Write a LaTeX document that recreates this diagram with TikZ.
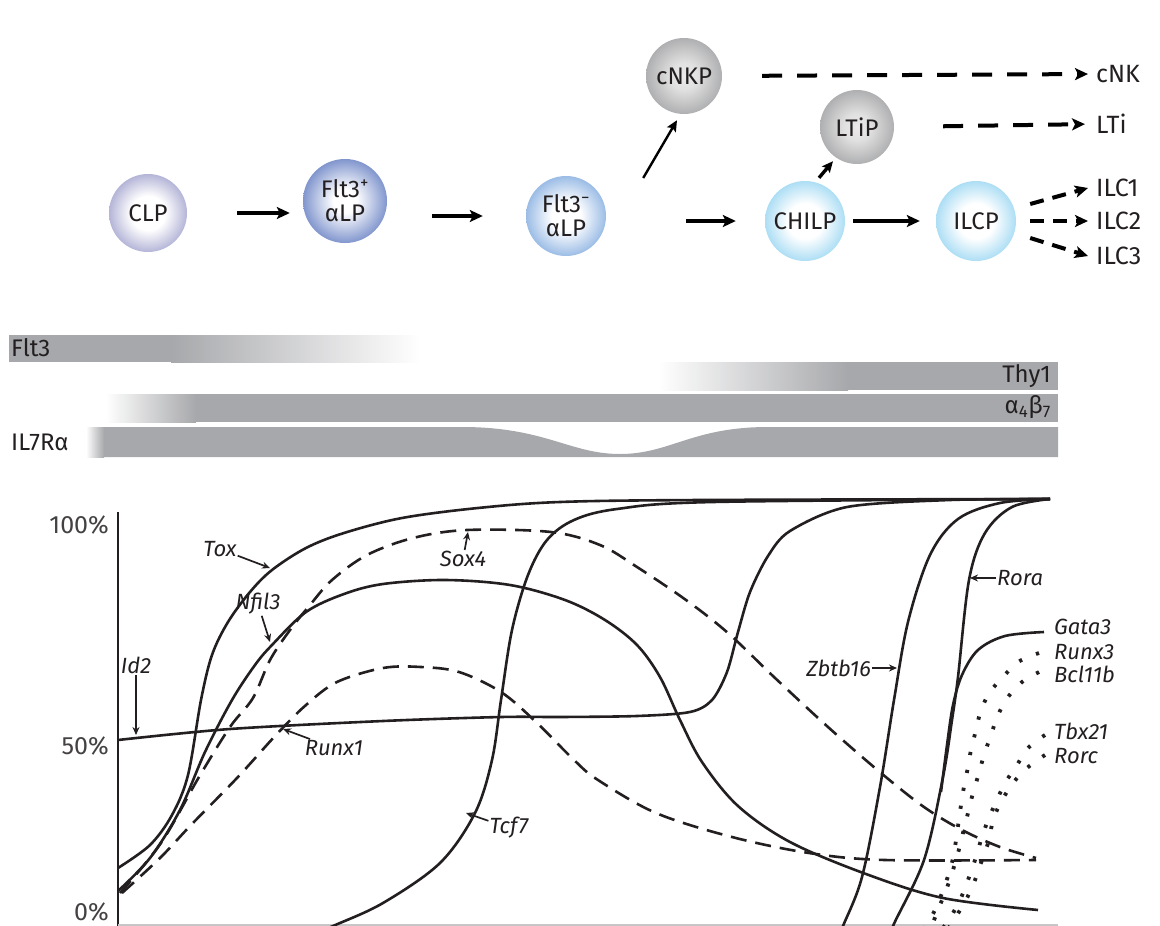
\documentclass[tikz,border=0pt]{standalone}
\usepackage{fontspec}
\setmainfont{Fira Sans}
\usepackage{xcolor}
\usetikzlibrary{arrows.meta}
\definecolor{ink}{HTML}{231F20}
\definecolor{clprim}{HTML}{8A8BC1}
\definecolor{alprim}{HTML}{7A90CB}
\definecolor{almrim}{HTML}{89B0E1}
\definecolor{nkrim}{HTML}{999A9C}
\definecolor{ilcrim}{HTML}{8AD0F0}
\definecolor{bargrey}{HTML}{A7A8AB}
\pgfdeclareradialshading{clpball}{\pgfpoint{0bp}{0bp}}{color(0bp)=(white);color(11bp)=(white);color(33bp)=(clprim);color(36bp)=(clprim!85!black)}
\pgfdeclareradialshading{alpball}{\pgfpoint{0bp}{0bp}}{color(0bp)=(white);color(7bp)=(white);color(26bp)=(alprim);color(36bp)=(alprim!90!black)}
\pgfdeclareradialshading{almball}{\pgfpoint{0bp}{0bp}}{color(0bp)=(white);color(9bp)=(white);color(28bp)=(almrim);color(36bp)=(almrim!90!black)}
\pgfdeclareradialshading{nkball}{\pgfpoint{0bp}{0bp}}{color(0bp)=(white!92!black);color(9bp)=(white!88!black);color(32bp)=(nkrim);color(36bp)=(nkrim!80!black)}
\pgfdeclareradialshading{ilcball}{\pgfpoint{0bp}{0bp}}{color(0bp)=(white);color(11bp)=(white);color(31bp)=(ilcrim);color(36bp)=(ilcrim!90!black)}

\begin{document}
\begin{tikzpicture}[x=1pt, y=-1pt,
		cell/.style={circle, shade, minimum size=80pt, inner sep=0pt, align=center,
			text=ink, font=\fontsize{24}{24}\selectfont},
		fate/.style={anchor=west, inner sep=1pt, text=ink, font=\fontsize{25}{26}\selectfont},
		mainarrow/.style={line width=4pt, -{Stealth[length=13pt,width=12pt,inset=3pt]}},
		slimarrow/.style={line width=2.4pt, -{Stealth[length=11pt,width=10pt,inset=2pt]}},
		fatedash/.style={line width=4pt, dash pattern=on 20pt off 15pt, -{Stealth[length=13pt,width=12pt,inset=3pt]}},
		shortdash/.style={fatedash, dash pattern=on 14pt off 9pt},
		barlabel/.style={inner sep=1pt, text=ink, font=\fontsize{24}{25}\selectfont},
		gene/.style={line width=2.6pt, ink},
		genedash/.style={gene, dash pattern=on 16pt off 9pt},
		genedot/.style={ink, line width=3.8pt, dash pattern=on 3.2pt off 15pt},
		genelabel/.style={inner sep=1pt, text=ink, font=\fontsize{22}{24}\selectfont\itshape},
		pointer/.style={ink, line width=1.7pt, -{Stealth[length=8pt,width=7pt]}},
		pct/.style={anchor=east, inner sep=0pt, text=ink!85, font=\fontsize{25}{26}\selectfont}]
	\useasboundingbox (0,0) rectangle (1160,926);
	%
	% cells
	\node[cell, shading=clpball, minimum size=78pt] (clp) at (148,213) {CLP};
	\node[cell, shading=alpball, minimum size=84pt] (alpp) at (345,201) {Flt3\textsuperscript{+}\\αLP};
	\node[cell, shading=almball] (alpm) at (566,216) {Flt3\textsuperscript{−}\\αLP};
	\node[cell, shading=nkball, minimum size=76pt] (cnkp) at (684,76) {cNKP};
	\node[cell, shading=nkball, minimum size=74pt] (ltip) at (857,127) {LTiP};
	\node[cell, shading=ilcball] (chilp) at (805,221) {CHILP};
	\node[cell, shading=ilcball] (ilcp) at (976,221) {ILCP};
	%
	\node[fate] (cnk) at (1095,74) {cNK};
	\node[fate] (lti) at (1095,124) {LTi};
	\node[fate] (ilc1) at (1095,188) {ILC1};
	\node[fate] (ilc2) at (1095,221) {ILC2};
	\node[fate] (ilc3) at (1095,256) {ILC3};
	%
	% lineage arrows
	\draw[mainarrow, shorten <=50pt, shorten >=13pt] (clp.east) -- (clp.east -| alpp.west);
	\draw[mainarrow, shorten <=45pt, shorten >=43pt] (alpp.east |- alpm.west) -- (alpm.west);
	\draw[mainarrow, shorten <=80pt, shorten >=29pt] (alpm.east |- chilp.west) -- (chilp.west);
	\draw[mainarrow, shorten <=8pt, shorten >=16pt] (chilp.east) -- (ilcp.west);
	\draw[slimarrow] ([shift={(37,-38)}]alpm.east) -- ([shift={(-7,6)}]cnkp.south);
	\draw[slimarrow, line width=3.4pt] ([shift={(14,-3)}]chilp.north) -- ([shift={(-24,-3)}]ltip.south);
	\draw[fatedash, shorten <=40pt, shorten >=7pt] (cnkp.east) -- (cnk.west);
	\draw[fatedash, shorten <=49pt, shorten >=10pt] (ltip.east) -- (lti.west);
	\draw[shortdash] ([shift={(14,-17)}]ilcp.east) -- ([xshift=-7pt]ilc1.west);
	\draw[shortdash] ([shift={(14,0)}]ilcp.east) -- ([xshift=-7pt]ilc2.west);
	\draw[shortdash] ([shift={(14,17)}]ilcp.east) -- ([xshift=-7pt]ilc3.west);
	%
	% surface markers
	\fill[bargrey] (9,335) rectangle (171,362);
	\shade[left color=bargrey, right color=white] (171,335) rectangle (420,362);
	\node[barlabel, anchor=west] (flt3) at (10,348) {Flt3};
	%
	\shade[left color=white, right color=bargrey] (658,362) rectangle (848,390);
	\fill[bargrey] (848,362) rectangle (1058,390);
	\node[barlabel, anchor=east] (thy1) at (1052,376) {Thy1};
	%
	\shade[left color=white, right color=bargrey] (106,394) rectangle (196,422);
	\fill[bargrey] (196,394) rectangle (1058,422);
	\node[barlabel, anchor=east] (a4b7) at (1052,407) {α\textsubscript{4}β\textsubscript{7}};
	%
	\shade[left color=white, right color=bargrey] (86,427) rectangle (104,457);
	\fill[bargrey] (104,427) -- (462,427) .. controls (545,427) and (570,454) .. (620,454)
		.. controls (670,454) and (692,427) .. (768,427) -- (1058,427) -- (1058,457) -- (104,457) -- cycle;
	\node[barlabel, anchor=west] (il7r) at (10,442) {IL7Rα};
	%
	% expression plot
	\draw[ink, line width=2.6pt] (118,512) -- (118,926);
	\draw[gray!45, line width=2pt] (118,925) -- (1058,925);
	\node[pct] (p100) at (109,525) {100\%};
	\node[pct] (p50) at (109,746) {50\%};
	\node[pct] (p0) at (109,912) {0\%};
	%
	\begin{scope}
		\clip (118,480) rectangle (1160,925);
		% Tox
		\draw[gene] plot[smooth, tension=0.55] coordinates {(118,868) (150,845) (172,815) (188,775)
			(201,700) (212,655) (228,622) (250,592) (272,570) (306,548) (344,533) (402,518) (478,508)
			(560,502) (700,500) (1050,499)};
		% Nfil3
		\draw[gene] plot[smooth, tension=0.55] coordinates {(118,891) (150,858) (180,810) (205,752)
			(232,700) (255,665) (272,645) (306,612) (344,594) (383,584) (445,580) (510,585) (565,600)
			(605,620) (637,645) (660,677) (680,720) (702,762) (738,806) (790,842) (866,874) (943,898)
			(1038,910)};
		% Sox4
		\draw[genedash] plot[smooth, tension=0.55] coordinates {(120,893) (161,843) (199,777) (230,727)
			(253,698) (270,660) (290,630) (310,605) (332,580) (367,555) (413,538) (467,530) (551,532)
			(600,545) (637,567) (686,600) (728,633) (774,677) (828,727) (881,773) (924,807) (962,830)
			(1000,847) (1036,858)};
		% Runx1
		\draw[genedash] plot[smooth, tension=0.55] coordinates {(122,893) (160,858) (191,825) (237,778)
			(276,735) (306,705) (337,682) (383,668) (421,667) (459,672) (501,692) (536,722) (574,760)
			(598,780) (656,813) (732,837) (809,853) (885,860) (1036,860)};
		% Id2
		\draw[gene] plot[smooth, tension=0.5] coordinates {(118,740) (230,729) (383,721) (501,717)
			(560,717) (637,716) (690,712) (712,700) (727,672) (738,632) (750,592) (768,556) (790,531)
			(847,507) (950,500) (1050,499)};
		% Tcf7
		\draw[gene] plot[smooth, tension=0.55] coordinates {(300,940) (333,926) (383,903) (440,863)
			(475,813) (492,760) (501,700) (512,630) (528,575) (547,540) (574,520) (617,509) (713,502)
			(1050,499)};
		% Zbtb16
		\draw[gene] plot[smooth, tension=0.55] coordinates {(835,945) (843,926) (862,877) (880,787)
			(894,700) (908,622) (930,555) (958,519) (1000,503) (1050,499)};
		% Rora
		\draw[gene] plot[smooth, tension=0.55] coordinates {(888,945) (893,926) (924,860) (943,777)
			(952,720) (958,677) (969,580) (985,533) (1012,507) (1050,499)};
		% Gata3
		\draw[gene] plot[smooth, tension=0.55] coordinates {(941,792) (947,745) (953,705) (962,675)
			(978,650) (1005,636) (1044,632)};
		% Runx3, Bcl11b
		\draw[genedot] plot[smooth, tension=0.55] coordinates {(1039,653) (1018,662) (1003,677) (990,692)
			(981,710) (976,730) (971,750) (967,772) (963,792) (960,812) (954,853) (949,873) (942,893)
			(934,912) (922,932)};
		\draw[genedot] plot[smooth, tension=0.55] coordinates {(1039,672) (1022,682) (1008,697) (998,715)
			(991,735) (984,755) (979,773) (973,793) (968,813) (963,833) (958,853) (952,873) (945,893)
			(937,912) (930,932)};
		% Tbx21, Rorc
		\draw[genedot] plot[smooth, tension=0.55] coordinates {(1045,735) (1028,748) (1017,765) (1005,783)
			(996,802) (988,820) (981,840) (975,860) (968,880) (960,900) (950,918) (940,932)};
		\draw[genedot] plot[smooth, tension=0.55] coordinates {(1045,755) (1027,768) (1013,783) (1001,802)
			(993,820) (989,840) (982,860) (975,880) (967,898) (957,915) (946,932)};
	\end{scope}
	%
	% gene labels
	\node[genelabel] (tox) at (220,549) {Tox};
	\node[genelabel] (nfil3) at (258,604) {Nfil3};
	\node[genelabel] (sox4) at (463,559) {Sox4};
	\node[genelabel] (runx1) at (334,748) {Runx1};
	\node[genelabel] (tcf7) at (509,828) {Tcf7};
	\node[genelabel] (id2) at (136,665) {Id2};
	\node[genelabel, anchor=east] (zbtb16) at (872,668) {Zbtb16};
	\node[genelabel, anchor=west] (rora) at (996,578) {Rora};
	\node[genelabel, anchor=west] (gata3) at (1053,627) {Gata3};
	\node[genelabel, anchor=west] (runx3) at (1053,652) {Runx3};
	\node[genelabel, anchor=west] (bcl11b) at (1053,674) {Bcl11b};
	\node[genelabel, anchor=west] (tbx21) at (1053,731) {Tbx21};
	\node[genelabel, anchor=west] (rorc) at (1053,756) {Rorc};
	%
	\coordinate (toxpt) at (270,568);
	\coordinate (nfil3pt) at (270,642);
	\coordinate (sox4pt) at (468,532);
	\coordinate (runx1pt) at (283,729);
	\coordinate (tcf7pt) at (466,813);
	\coordinate (id2pt) at (136,735);
	\coordinate (zbtb16pt) at (897,668);
	\coordinate (rorapt) at (970,578);
	\draw[pointer] (tox) -- (toxpt);
	\draw[pointer] (nfil3) -- (nfil3pt);
	\draw[pointer] (sox4) -- (sox4pt);
	\draw[pointer] (runx1) -- (runx1pt);
	\draw[pointer] (tcf7) -- (tcf7pt);
	\draw[pointer] (id2) -- (id2pt);
	\draw[pointer] (zbtb16) -- (zbtb16pt);
	\draw[pointer] (rora) -- (rorapt);
\end{tikzpicture}
\end{document}
